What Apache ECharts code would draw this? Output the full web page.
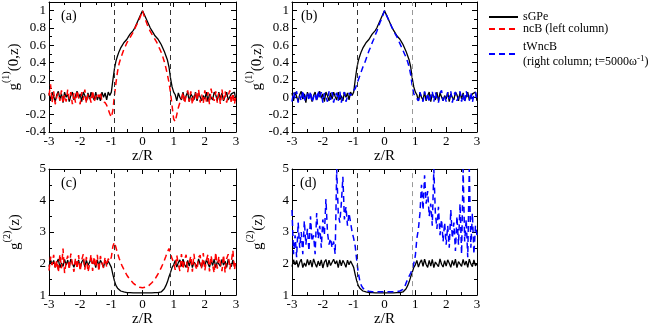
<!DOCTYPE html>
<html>
<head>
<meta charset="utf-8">
<script src="https://cdn.jsdelivr.net/npm/echarts@6/dist/echarts.min.js"></script>
<style>
  html, body { margin: 0; padding: 0; background: #fff; }
  #chart { width: 659px; height: 328px; }
</style>
</head>
<body>
<div id="chart"></div>
<script>
// sample positions z/R
const zGrid = [
  -3, -2.95, -2.9, -2.85, -2.8, -2.75, -2.7, -2.65, -2.6, -2.55,
  -2.5, -2.45, -2.4, -2.35, -2.3, -2.25, -2.2, -2.15, -2.1, -2.05,
  -2, -1.95, -1.9, -1.85, -1.8, -1.75, -1.7, -1.65, -1.6, -1.55,
  -1.5, -1.45, -1.4, -1.35, -1.3, -1.25, -1.2, -1.15, -1.1, -1.05,
  -1, -0.95, -0.9, -0.85, -0.8, -0.75, -0.7, -0.65, -0.6, -0.55,
  -0.5, -0.45, -0.4, -0.35, -0.3, -0.25, -0.2, -0.15, -0.1, -0.05,
  0, 0.05, 0.1, 0.15, 0.2, 0.25, 0.3, 0.35, 0.4, 0.45,
  0.5, 0.55, 0.6, 0.65, 0.7, 0.75, 0.8, 0.85, 0.9, 0.95,
  1, 1.05, 1.1, 1.15, 1.2, 1.25, 1.3, 1.35, 1.4, 1.45,
  1.5, 1.55, 1.6, 1.65, 1.7, 1.75, 1.8, 1.85, 1.9, 1.95,
  2, 2.05, 2.1, 2.15, 2.2, 2.25, 2.3, 2.35, 2.4, 2.45,
  2.5, 2.55, 2.6, 2.65, 2.7, 2.75, 2.8, 2.85, 2.9, 2.95,
  3
];

// g1(0,z), sGPe
const g1Sgpe = [
  0.05, -0.04, 0.06, 0.01, -0.05, 0.03, 0.07, -0.02, 0.04, -0.06,
  0.06, 0.00, 0.04, -0.05, 0.02, 0.06, -0.03, -0.04, 0.07, -0.01,
  0.04, -0.05, 0.06, 0.02, -0.04, 0.05, -0.02, 0.06, 0.01, -0.03,
  0.06, -0.03, 0.02, -0.04, 0.06, 0.00, 0.05, -0.03, 0.06, 0.02,
  0.06, 0.20, 0.33, 0.42, 0.48, 0.53, 0.57, 0.60, 0.63, 0.65,
  0.67, 0.70, 0.73, 0.75, 0.77, 0.80, 0.84, 0.88, 0.92, 0.96,
  1.00, 0.96, 0.92, 0.88, 0.84, 0.80, 0.77, 0.74, 0.71, 0.69,
  0.67, 0.64, 0.61, 0.57, 0.53, 0.48, 0.43, 0.35, 0.22, 0.12,
  0.06, 0.03, -0.04, 0.05, 0.00, -0.03, 0.06, -0.04, 0.02, 0.06,
  -0.05, 0.04, 0.01, -0.03, 0.06, -0.04, 0.05, 0.07, -0.04, 0.02,
  -0.02, 0.06, -0.05, 0.04, 0.00, -0.03, 0.06, 0.03, -0.04, 0.06,
  -0.02, 0.05, -0.04, 0.01, 0.06, -0.03, -0.05, 0.04, 0.02, 0.06,
  -0.04
];

// g1(0,z), ncB
const g1Ncb = [
  0.02, 0.15, -0.06, 0.07, -0.08, 0.01, 0.05, -0.04, 0.08, -0.07,
  0.03, -0.05, 0.09, -0.02, 0.06, -0.08, 0.05, -0.06, 0.08, 0.00,
  -0.08, 0.06, -0.03, 0.09, -0.07, 0.04, 0.01, -0.06, 0.08, -0.05,
  -0.07, 0.05, 0.00, 0.06, -0.05, -0.03, -0.06, -0.09, -0.14, -0.19,
  -0.23, -0.15, 0.02, 0.17, 0.30, 0.39, 0.45, 0.50, 0.55, 0.59,
  0.63, 0.66, 0.69, 0.72, 0.75, 0.79, 0.83, 0.86, 0.90, 0.95,
  1.00, 0.94, 0.89, 0.84, 0.80, 0.76, 0.73, 0.70, 0.67, 0.64,
  0.60, 0.56, 0.52, 0.47, 0.41, 0.34, 0.26, 0.17, 0.05, -0.10,
  -0.25, -0.28, -0.20, -0.12, -0.06, -0.02, 0.06, -0.07, 0.02, 0.08,
  -0.05, 0.07, -0.08, 0.01, 0.06, -0.04, 0.09, -0.06, 0.03, -0.07,
  0.08, -0.05, 0.06, -0.08, 0.10, 0.00, -0.04, 0.07, -0.06, 0.05,
  -0.08, 0.09, -0.03, 0.07, -0.06, 0.02, 0.08, -0.07, 0.05, -0.08,
  0.03
];

// g1(0,z), tWncB
const g1Twncb = [
  -0.05, 0.06, -0.01, 0.07, -0.06, 0.02, -0.04, 0.08, -0.05, 0.01,
  0.06, -0.04, 0.07, -0.06, 0.00, 0.05, -0.05, 0.08, -0.02, 0.06,
  -0.06, 0.05, 0.01, -0.05, 0.07, -0.03, 0.06, -0.06, 0.02, 0.05,
  -0.04, 0.07, -0.06, 0.03, 0.06, -0.05, 0.01, 0.05, 0.02, 0.06,
  0.06, 0.10, 0.15, 0.20, 0.25, 0.30, 0.35, 0.39, 0.44, 0.49,
  0.54, 0.58, 0.63, 0.67, 0.72, 0.76, 0.81, 0.86, 0.90, 0.95,
  1.00, 0.96, 0.92, 0.88, 0.84, 0.80, 0.77, 0.73, 0.70, 0.66,
  0.62, 0.58, 0.54, 0.50, 0.46, 0.41, 0.35, 0.26, 0.13, 0.04,
  0.01, 0.03, -0.04, 0.06, 0.00, -0.05, 0.07, -0.03, 0.05, -0.06,
  0.02, 0.07, -0.05, 0.06, -0.01, -0.06, 0.05, 0.08, -0.04, 0.02,
  -0.05, 0.06, -0.02, 0.07, -0.06, 0.03, 0.06, -0.04, 0.00, 0.07,
  -0.05, 0.04, -0.06, 0.07, 0.01, -0.04, 0.06, -0.06, 0.03, 0.06,
  -0.02
];

// g2(z), sGPe
const g2Sgpe = [
  1.90, 2.12, 1.96, 2.10, 1.88, 2.04, 2.14, 1.87, 2.02, 1.91,
  2.13, 1.95, 2.11, 1.89, 2.15, 2.00, 1.88, 2.08, 1.93, 2.12,
  1.86, 2.05, 2.13, 1.89, 2.11, 1.94, 1.88, 2.14, 1.99, 2.09,
  1.87, 2.12, 1.93, 2.10, 2.01, 1.88, 2.11, 1.96, 2.08, 2.02,
  1.88, 1.65, 1.45, 1.30, 1.22, 1.16, 1.13, 1.11, 1.10, 1.09,
  1.08, 1.08, 1.08, 1.07, 1.07, 1.07, 1.07, 1.07, 1.07, 1.07,
  1.07, 1.07, 1.07, 1.07, 1.07, 1.07, 1.07, 1.07, 1.08, 1.08,
  1.08, 1.09, 1.10, 1.14, 1.20, 1.30, 1.42, 1.58, 1.72, 1.88,
  1.96, 2.10, 1.89, 2.03, 2.12, 1.91, 2.14, 1.97, 1.88, 2.10,
  1.92, 2.13, 1.87, 2.05, 2.11, 1.90, 2.15, 1.98, 1.89, 2.09,
  1.92, 2.12, 2.01, 1.88, 2.10, 1.94, 2.14, 1.87, 2.06, 2.11,
  1.91, 2.13, 1.95, 2.08, 1.88, 2.14, 1.99, 1.90, 2.12, 1.93,
  2.00
];

// g2(z), ncB
const g2Ncb = [
  1.78, 2.22, 1.95, 2.28, 1.82, 2.10, 1.72, 2.30, 1.85, 2.48,
  1.70, 2.05, 2.25, 1.80, 2.32, 1.98, 1.74, 2.18, 1.83, 2.27,
  1.76, 2.12, 2.30, 1.81, 2.21, 1.73, 1.96, 2.29, 1.77, 2.22,
  1.88, 2.28, 1.75, 2.24, 2.02, 1.86, 2.20, 1.90, 2.16, 2.08,
  2.20, 2.55, 2.68, 2.50, 2.32, 2.17, 2.03, 1.92, 1.82, 1.72,
  1.63, 1.56, 1.49, 1.43, 1.38, 1.34, 1.30, 1.27, 1.25, 1.24,
  1.23, 1.24, 1.25, 1.27, 1.30, 1.34, 1.39, 1.44, 1.51, 1.59,
  1.67, 1.77, 1.87, 1.98, 2.10, 2.23, 2.37, 2.48, 2.45, 2.15,
  2.05, 1.80, 2.26, 1.98, 1.76, 2.30, 1.82, 2.12, 2.28, 1.73,
  2.03, 2.24, 1.74, 2.31, 1.92, 1.80, 2.20, 2.27, 1.83, 2.33,
  1.78, 2.10, 2.29, 1.75, 2.25, 1.95, 1.70, 2.36, 1.84, 2.23,
  2.00, 1.76, 2.28, 1.71, 2.15, 2.30, 1.82, 2.06, 2.42, 1.80,
  2.12
];

// g2(z), tWncB
const g2Twncb = [
  3.70, 2.30, 2.90, 2.20, 3.30, 2.50, 3.00, 2.30, 3.35, 2.60,
  3.10, 2.40, 3.50, 2.70, 2.90, 2.30, 3.60, 2.80, 3.20, 2.50,
  3.40, 2.90, 4.05, 3.00, 2.60, 2.80, 2.50, 2.70, 2.30, 5.00,
  3.60, 3.30, 3.90, 4.75, 3.40, 3.80, 3.20, 3.60, 3.30, 3.00,
  2.80, 2.55, 2.10, 1.70, 1.45, 1.30, 1.22, 1.17, 1.14, 1.13,
  1.12, 1.12, 1.11, 1.11, 1.11, 1.11, 1.11, 1.11, 1.11, 1.11,
  1.11, 1.11, 1.11, 1.11, 1.11, 1.11, 1.11, 1.11, 1.11, 1.12,
  1.13, 1.15, 1.18, 1.25, 1.38, 1.50, 1.60, 1.70, 1.82, 2.00,
  2.25, 2.80, 3.10, 3.60, 4.50, 3.70, 4.80, 3.90, 4.30, 3.50,
  3.90, 3.20, 5.00, 3.60, 3.10, 3.80, 2.90, 3.40, 2.70, 3.30,
  2.60, 3.20, 2.50, 3.70, 2.80, 3.30, 2.40, 3.50, 2.60, 3.90,
  2.30, 5.00, 2.70, 3.40, 2.20, 5.00, 2.50, 3.60, 2.30, 3.20,
  2.90
];

// boundary positions (dashed verticals)
const edges = [-0.9, 0.89];

const FONT = 'Liberation Serif';
const BLACK = '#000';

const grids = [
  { left: 49, top: 2, width: 187, height: 130 },
  { left: 292, top: 2, width: 185, height: 130 },
  { left: 49, top: 169, width: 187, height: 129 },
  { left: 292, top: 169, width: 185, height: 129 }
];

const yRange = [
  { min: -0.4, max: 1.1, interval: 0.2, name: '{g|g}{s|(1)}{g|(0,z)}' },
  { min: -0.4, max: 1.1, interval: 0.2, name: '{g|g}{s|(1)}{g|(0,z)}' },
  { min: 1, max: 5, interval: 1, name: '{g|g}{s|(2)}{g|(z)}' },
  { min: 1, max: 5, interval: 1, name: '{g|g}{s|(2)}{g|(z)}' }
];

const tickStyle = { color: BLACK, width: 1 };
const labelStyle = { fontFamily: FONT, fontSize: 13, color: BLACK };

const xAxis = [];
const yAxis = [];
grids.forEach((g, i) => {
  const base = {
    gridIndex: i, type: 'value',
    axisLine: { onZero: false, lineStyle: { color: BLACK, width: 1 } },
    axisTick: { inside: true, length: 5, lineStyle: tickStyle },
    minorTick: { show: true, splitNumber: 2, length: 3, lineStyle: tickStyle },
    splitLine: { show: false }
  };
  xAxis.push(Object.assign({}, base, {
    min: -3, max: 3, interval: 1, position: 'bottom',
    name: 'z/R', nameLocation: 'middle', nameGap: 14,
    nameTextStyle: { fontFamily: FONT, fontSize: 15, color: BLACK },
    axisLabel: Object.assign({ margin: 3 }, labelStyle)
  }));
  xAxis.push(Object.assign({}, base, {
    min: -3, max: 3, interval: 1, position: 'top',
    axisLabel: { show: false }
  }));
  const r = yRange[i];
  const topTick = Math.abs(r.max / r.interval - Math.round(r.max / r.interval)) > 1e-6;
  yAxis.push(Object.assign({}, base, {
    min: r.min, max: r.max, interval: r.interval, position: 'left',
    name: r.name, nameLocation: 'middle', nameGap: 21,
    nameTextStyle: {
      fontFamily: FONT, color: BLACK,
      rich: {
        g: { fontFamily: FONT, fontSize: 15, lineHeight: 26, color: BLACK },
        s: { fontFamily: FONT, fontSize: 10, lineHeight: 10, verticalAlign: 'top', color: BLACK }
      }
    },
    axisLabel: Object.assign({
      margin: 3,
      formatter: v => (topTick && v > r.max - r.interval / 2 ? '' : String(+v.toFixed(1)))
    }, labelStyle)
  }));
  yAxis.push(Object.assign({}, base, {
    min: r.min, max: r.max, interval: r.interval, position: 'right',
    axisLabel: { show: false }
  }));
});

function curve(name, values, i, color, dashed) {
  return {
    type: 'line', name,
    xAxisIndex: 2 * i, yAxisIndex: 2 * i,
    data: zGrid.map((z, k) => [z, values[k]]),
    symbol: 'none', showSymbol: false,
    lineStyle: { color, width: dashed ? 1.5 : 1.3, type: dashed ? [6, 4] : 'solid' },
    itemStyle: { color },
    clip: true, silent: true
  };
}

function withEdges(s, i) {
  s.markLine = {
    silent: true, symbol: 'none', label: { show: false },
    lineStyle: { color: '#333', type: [5, 4], width: 1 },
    data: [
      { xAxis: edges[0] },
      { xAxis: edges[1], lineStyle: { color: i % 2 ? '#999' : '#333', type: [5, 4], width: 1 } }
    ]
  };
  return s;
}

const series = [
  withEdges(curve('sGPe', g1Sgpe, 0, BLACK, false), 0),
  curve('ncB', g1Ncb, 0, '#ff0000', true),
  withEdges(curve('sGPe', g1Sgpe, 1, BLACK, false), 1),
  curve('tWncB', g1Twncb, 1, '#0000ff', true),
  withEdges(curve('sGPe', g2Sgpe, 2, BLACK, false), 2),
  curve('ncB', g2Ncb, 2, '#ff0000', true),
  withEdges(curve('sGPe', g2Sgpe, 3, BLACK, false), 3),
  curve('tWncB', g2Twncb, 3, '#0000ff', true)
];

const panelTags = [
  { text: '(a)', left: 61, top: 9 },
  { text: '(b)', left: 301, top: 9 },
  { text: '(c)', left: 61, top: 176 },
  { text: '(d)', left: 300, top: 176 }
];

const chart = echarts.init(document.getElementById('chart'), null, { renderer: 'canvas' });
chart.setOption({
  animation: false,
  backgroundColor: '#fff',
  grid: grids,
  xAxis,
  yAxis,
  legend: [
    {
      orient: 'vertical', left: 483, top: 6, itemGap: 0,
      itemWidth: 29, itemHeight: 11, selectedMode: false,
      itemStyle: { opacity: 0 },
      data: ['sGPe', 'ncB'],
      formatter: n => (n === 'ncB' ? 'ncB (left column)' : n),
      textStyle: { fontFamily: FONT, fontSize: 12, color: BLACK, lineHeight: 11 }
    },
    {
      orient: 'vertical', left: 483, top: 34,
      itemWidth: 29, itemHeight: 11, selectedMode: false,
      itemStyle: { opacity: 0 },
      data: ['tWncB'],
      formatter: () => 'tWncB\n(right column; t=5000ω{s|-1})',
      textStyle: {
        fontFamily: FONT, fontSize: 12, color: BLACK, lineHeight: 15,
        rich: { s: { fontFamily: FONT, fontSize: 9, lineHeight: 6, verticalAlign: 'top', color: BLACK } }
      }
    }
  ],
  graphic: panelTags.map(p => ({
    type: 'text', left: p.left, top: p.top,
    style: { text: p.text, font: '14px "Liberation Serif"', fill: BLACK }
  })),
  series
});
</script>
</body>
</html>
